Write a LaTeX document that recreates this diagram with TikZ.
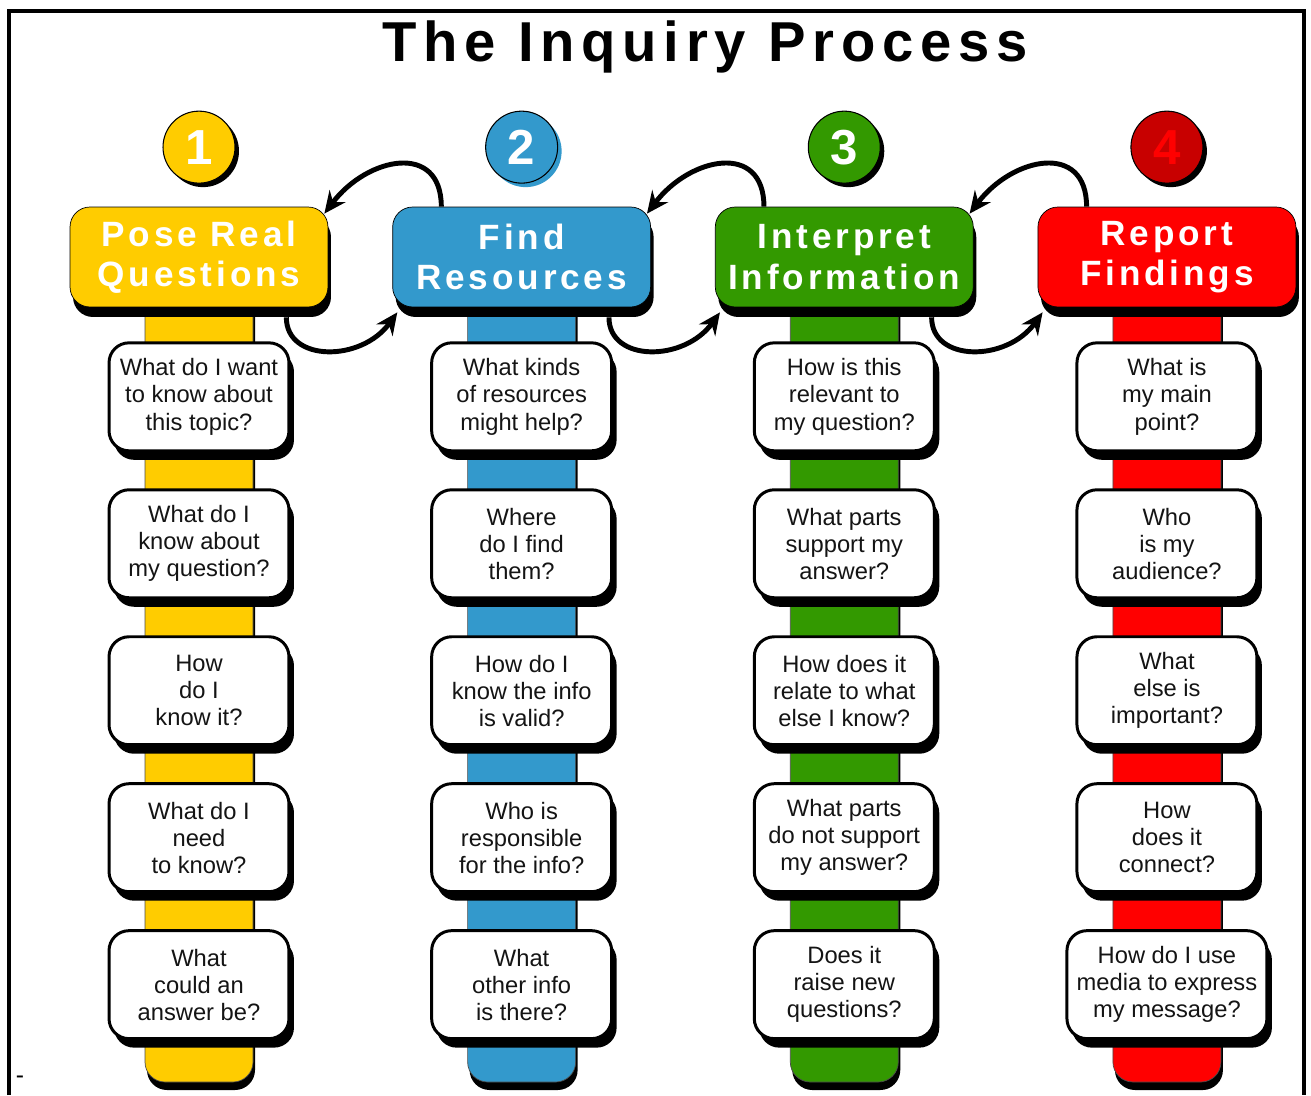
\documentclass[tikz,border=0pt]{standalone}
\usepackage{fontspec}
\setmainfont{Liberation Sans}
\newfontfamily\titlefont[LetterSpace=12]{Liberation Sans}
\newfontfamily\headfont[LetterSpace=11]{Liberation Sans}
\usetikzlibrary{positioning,arrows.meta,shadows,backgrounds}
\definecolor{colorpose}     {RGB}{255,204,0  }
\definecolor{colorfind}     {RGB}{51 ,153,204}
\definecolor{colorinterpret}{RGB}{51 ,153,0  }
\definecolor{colorreport}   {RGB}{255,0  ,0  }
\definecolor{colorfour}     {RGB}{200,0  ,0  }
\definecolor{colortext}     {RGB}{20 ,20 ,20 }

\begin{document}
\begin{tikzpicture}[
    x=0.02cm, y=-0.02cm,
    node distance = 0.72cm,
    title/.style={text=black,font={\titlefont\bfseries\fontsize{32}{36}\selectfont}},
    head/.style={rectangle,rounded corners=0.4cm,draw=black,thin,minimum width=5.16cm,minimum height=2cm,align=center,text=white,font={\headfont\bfseries\fontsize{20}{23}\selectfont},drop shadow={shadow xshift=0.06cm,shadow yshift=-0.2cm,opacity=1,fill=black}},
    number/.style={circle,draw=black,semithick,minimum size=1.44cm,inner sep=0pt,text=white,font={\bfseries\fontsize{28}{28}\selectfont},drop shadow={shadow xshift=0.08cm,shadow yshift=-0.08cm,opacity=1,fill=#1}},
    number/.default=black,
    question/.style={rectangle,rounded corners=0.4cm,draw=black,line width=1.7pt,fill=white,minimum width=3.6cm,minimum height=2.16cm,inner sep=2pt,align=center,text=colortext,font={\fontsize{13.5}{15.4}\selectfont},drop shadow={shadow xshift=0.1cm,shadow yshift=-0.18cm,opacity=1,fill=black}},
    stem/.style={rounded corners=0.4cm,draw=black!70,thin},
    stemshadow/.style={rounded corners=0.4cm,fill=black},
    revisit/.style={line width=2.8pt,-{Stealth[length=0.44cm,width=0.4cm,inset=0.15cm]}},
]
    \useasboundingbox (0,0) rectangle (1311,1095);

    % Frame and title
    \draw[line width=2pt] (9,1095) -- (9,11) -- (1304,11) -- (1304,1095);
    \node[title,anchor=base] (title) at (705,62) {The Inquiry Process};
    \node[font=\fontsize{14}{14}\selectfont] (dash) at (20,1080) {-};

    % Steps
    \node[head,fill=colorpose]                       (pose)      at (199,257) {Pose Real\\Questions};
    \node[head,fill=colorfind,right=1.28cm of pose]       (find)      {Find\\Resources};
    \node[head,fill=colorinterpret,right=1.28cm of find]  (interpret) {Interpret\\Information};
    \node[head,fill=colorreport,right=1.28cm of interpret] (report)   {Report\\Findings};

    % Numbers
    \node[number,fill=colorpose,above=0.46cm of pose]                  (num1) {1};
    \node[number=colorfind,fill=colorfind,above=0.46cm of find]        (num2) {2};
    \node[number,fill=colorinterpret,above=0.46cm of interpret]        (num3) {3};
    \node[number,fill=colorfour,text=colorreport,above=0.46cm of report] (num4) {4};

    % Questions: pose real questions
    \node[question,below=0.68cm of pose] (pose1) {What do I want\\to know about\\this topic?};
    \node[question,below=of pose1] (pose2) {What do I\\know about\\my question?};
    \node[question,below=of pose2] (pose3) {How\\do I\\know it?};
    \node[question,below=of pose3] (pose4) {What do I\\need\\to know?};
    \node[question,below=of pose4] (pose5) {What\\could an\\answer be?};

    % Questions: find resources
    \node[question,below=0.68cm of find] (find1) {What kinds\\of resources\\might help?};
    \node[question,below=of find1] (find2) {Where\\do I find\\them?};
    \node[question,below=of find2] (find3) {How do I\\know the info\\is valid?};
    \node[question,below=of find3] (find4) {Who is\\responsible\\for the info?};
    \node[question,below=of find4] (find5) {What\\other info\\is there?};

    % Questions: interpret information
    \node[question,below=0.68cm of interpret] (interpret1) {How is this\\relevant to\\my question?};
    \node[question,below=of interpret1] (interpret2) {What parts\\support my\\answer?};
    \node[question,below=of interpret2] (interpret3) {How does it\\relate to what\\else I know?};
    \node[question,below=of interpret3] (interpret4) {What parts\\do not support\\my answer?};
    \node[question,below=of interpret4] (interpret5) {Does it\\raise new\\questions?};

    % Questions: report findings
    \node[question,below=0.68cm of report] (report1) {What is\\my main\\point?};
    \node[question,below=of report1] (report2) {Who\\is my\\audience?};
    \node[question,below=of report2] (report3) {What\\else is\\important?};
    \node[question,below=of report3] (report4) {How\\does it\\connect?};
    \node[question,minimum width=4cm,below=of report4] (report5) {How do I use\\media to express\\my message?};

    % Stems behind the boxes
    \coordinate (bottomline) at (0,1082);
    \begin{scope}[on background layer]
    \path[stemshadow] ([shift={(-52,0)}]pose.center) rectangle ([shift={(56,8)}]pose |- bottomline);
    \path[stem,fill=colorpose] ([shift={(-54,0)}]pose.center) rectangle ([shift={(54,0)}]pose |- bottomline);
    \path[stemshadow] ([shift={(-52,0)}]find.center) rectangle ([shift={(56,8)}]find |- bottomline);
    \path[stem,fill=colorfind] ([shift={(-54,0)}]find.center) rectangle ([shift={(54,0)}]find |- bottomline);
    \path[stemshadow] ([shift={(-52,0)}]interpret.center) rectangle ([shift={(56,8)}]interpret |- bottomline);
    \path[stem,fill=colorinterpret] ([shift={(-54,0)}]interpret.center) rectangle ([shift={(54,0)}]interpret |- bottomline);
    \path[stemshadow] ([shift={(-52,0)}]report.center) rectangle ([shift={(56,8)}]report |- bottomline);
    \path[stem,fill=colorreport] ([shift={(-54,0)}]report.center) rectangle ([shift={(54,0)}]report |- bottomline);
    \end{scope}

    % Arrows back and forth
    \draw[revisit] ([shift={(49,0)}]find.north west) .. controls +(0,-65) and +(43,-57) .. ([shift={(-4,7)}]pose.north east);
    \draw[revisit] ([shift={(-42,10)}]pose.south east) .. controls +(0,45) and +(-36,50) .. ([shift={(5,5)}]find.south west);
    \draw[revisit] ([shift={(49,0)}]interpret.north west) .. controls +(0,-65) and +(43,-57) .. ([shift={(-4,7)}]find.north east);
    \draw[revisit] ([shift={(-42,10)}]find.south east) .. controls +(0,45) and +(-36,50) .. ([shift={(5,5)}]interpret.south west);
    \draw[revisit] ([shift={(49,0)}]report.north west) .. controls +(0,-65) and +(43,-57) .. ([shift={(-4,7)}]interpret.north east);
    \draw[revisit] ([shift={(-42,10)}]interpret.south east) .. controls +(0,45) and +(-36,50) .. ([shift={(5,5)}]report.south west);

\end{tikzpicture}
\end{document}
